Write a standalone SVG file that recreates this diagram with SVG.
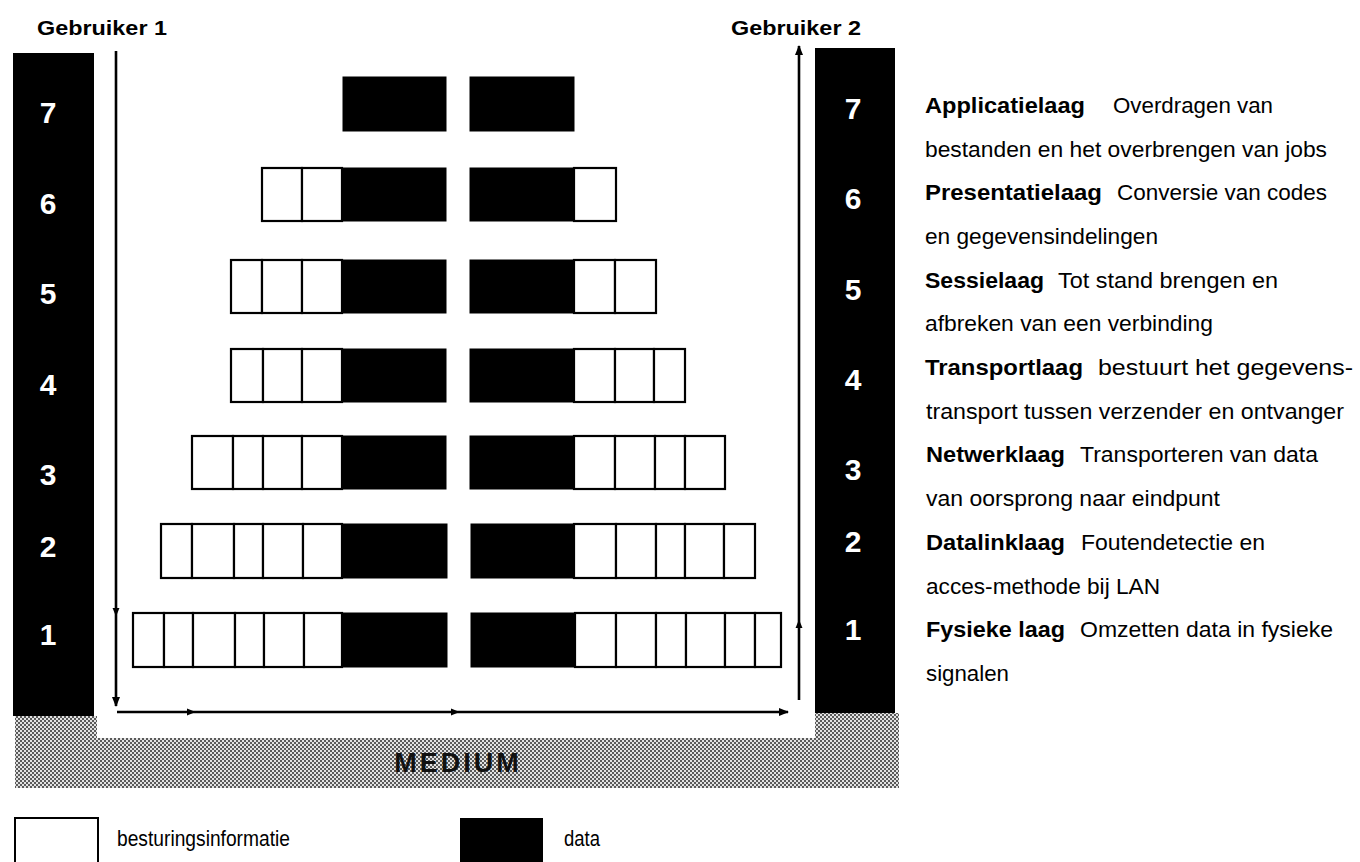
<svg xmlns="http://www.w3.org/2000/svg" width="1360" height="862" viewBox="0 0 1360 862">
<style>
.t{font-family:"Liberation Sans",Arial,sans-serif;font-size:22.5px;fill:#000}
.b{font-weight:bold}
.num{font-family:"Liberation Sans",Arial,sans-serif;font-weight:bold;font-size:30px;fill:#fff;text-anchor:middle}
.col{fill:#000}
.c{fill:#fff;stroke:#000;stroke-width:2.2}
.d{fill:#000;stroke:#000;stroke-width:1}
.ln{fill:none;stroke:#000;stroke-width:2.6}
</style>
<defs>
<pattern id="hatch" width="4" height="4" patternUnits="userSpaceOnUse">
<rect width="4" height="4" fill="#e2e2e2"/>
<rect x="0" y="0" width="2" height="2" fill="#5a5a5a"/>
<rect x="2" y="2" width="2" height="2" fill="#5a5a5a"/>
</pattern>
<marker id="ah" viewBox="0 0 10 10" refX="9" refY="5" markerWidth="10" markerHeight="10" markerUnits="userSpaceOnUse" orient="auto">
<path d="M0,1 L10,5 L0,9 Z" fill="#000"/>
</marker>
<marker id="am" viewBox="0 0 10 10" refX="6" refY="5" markerWidth="9" markerHeight="9" markerUnits="userSpaceOnUse" orient="auto">
<path d="M0,1 L10,5 L0,9 Z" fill="#000"/>
</marker>
</defs>
<rect width="1360" height="862" fill="#fff"/>

<g id="medium">
<path d="M15,716 H97 V738 H815 V713 H899 V788 H15 Z" fill="url(#hatch)"/>
<text x="458" y="772" text-anchor="middle" style="font-family:'Liberation Sans',Arial,sans-serif;font-weight:bold;font-size:27px;letter-spacing:3px;fill:#111">MEDIUM</text>
</g>

<g id="user1">
<text class="t b" x="37" y="35" textLength="130" lengthAdjust="spacingAndGlyphs" style="font-size:21px">Gebruiker 1</text>
<rect class="col" x="13" y="53" width="81" height="663"/>
<text class="num" x="48" y="123">7</text>
<text class="num" x="48" y="214">6</text>
<text class="num" x="48" y="304">5</text>
<text class="num" x="48" y="395">4</text>
<text class="num" x="48" y="485">3</text>
<text class="num" x="48" y="557">2</text>
<text class="num" x="48" y="645">1</text>
</g>

<g id="user2">
<text class="t b" x="731" y="35" textLength="130" lengthAdjust="spacingAndGlyphs" style="font-size:21px">Gebruiker 2</text>
<rect class="col" x="815" y="48" width="80" height="665"/>
<text class="num" x="853" y="119">7</text>
<text class="num" x="853" y="209">6</text>
<text class="num" x="853" y="300">5</text>
<text class="num" x="853" y="390">4</text>
<text class="num" x="853" y="480">3</text>
<text class="num" x="853" y="552">2</text>
<text class="num" x="853" y="640">1</text>
</g>

<g id="row7">
<rect class="d" x="343" y="77" width="103" height="54"/>
<rect class="d" x="470" y="77" width="104" height="54"/>
</g>

<g id="row6">
<rect class="c" x="262" y="168" width="40" height="53"/>
<rect class="c" x="302" y="168" width="40" height="53"/>
<rect class="d" x="342" y="168" width="104" height="53"/>
<rect class="d" x="470" y="168" width="104" height="53"/>
<rect class="c" x="574" y="168" width="42" height="53"/>
</g>

<g id="row5">
<rect class="c" x="231" y="260" width="31" height="53"/>
<rect class="c" x="262" y="260" width="40" height="53"/>
<rect class="c" x="302" y="260" width="40" height="53"/>
<rect class="d" x="342" y="260" width="104" height="53"/>
<rect class="d" x="470" y="260" width="104" height="53"/>
<rect class="c" x="574" y="260" width="41" height="53"/>
<rect class="c" x="615" y="260" width="41" height="53"/>
</g>

<g id="row4">
<rect class="c" x="231" y="349" width="32" height="53"/>
<rect class="c" x="263" y="349" width="39" height="53"/>
<rect class="c" x="302" y="349" width="40" height="53"/>
<rect class="d" x="342" y="349" width="104" height="53"/>
<rect class="d" x="470" y="349" width="104" height="53"/>
<rect class="c" x="574" y="349" width="41" height="53"/>
<rect class="c" x="615" y="349" width="39" height="53"/>
<rect class="c" x="654" y="349" width="31" height="53"/>
</g>

<g id="row3">
<rect class="c" x="192" y="436" width="41" height="53"/>
<rect class="c" x="233" y="436" width="30" height="53"/>
<rect class="c" x="263" y="436" width="39" height="53"/>
<rect class="c" x="302" y="436" width="40" height="53"/>
<rect class="d" x="342" y="436" width="104" height="53"/>
<rect class="d" x="470" y="436" width="104" height="53"/>
<rect class="c" x="574" y="436" width="41" height="53"/>
<rect class="c" x="615" y="436" width="40" height="53"/>
<rect class="c" x="655" y="436" width="30" height="53"/>
<rect class="c" x="685" y="436" width="40" height="53"/>
</g>

<g id="row2">
<rect class="c" x="161" y="524" width="31" height="54"/>
<rect class="c" x="192" y="524" width="42" height="54"/>
<rect class="c" x="234" y="524" width="29" height="54"/>
<rect class="c" x="263" y="524" width="40" height="54"/>
<rect class="c" x="303" y="524" width="39" height="54"/>
<rect class="d" x="342" y="524" width="105" height="54"/>
<rect class="d" x="471" y="524" width="103" height="54"/>
<rect class="c" x="574" y="524" width="42" height="54"/>
<rect class="c" x="616" y="524" width="40" height="54"/>
<rect class="c" x="656" y="524" width="29" height="54"/>
<rect class="c" x="685" y="524" width="39" height="54"/>
<rect class="c" x="724" y="524" width="31" height="54"/>
</g>

<g id="row1">
<rect class="c" x="133" y="613" width="31" height="54"/>
<rect class="c" x="164" y="613" width="29" height="54"/>
<rect class="c" x="193" y="613" width="42" height="54"/>
<rect class="c" x="235" y="613" width="29" height="54"/>
<rect class="c" x="264" y="613" width="40" height="54"/>
<rect class="c" x="304" y="613" width="38" height="54"/>
<rect class="d" x="342" y="613" width="105" height="54"/>
<rect class="d" x="471" y="613" width="104" height="54"/>
<rect class="c" x="575" y="613" width="41" height="54"/>
<rect class="c" x="616" y="613" width="40" height="54"/>
<rect class="c" x="656" y="613" width="30" height="54"/>
<rect class="c" x="686" y="613" width="39" height="54"/>
<rect class="c" x="725" y="613" width="30" height="54"/>
<rect class="c" x="755" y="613" width="26" height="54"/>
</g>

<g id="connectors">
<polyline class="ln" points="116,51 116,613 116,706" marker-mid="url(#am)" marker-end="url(#ah)"/>
<polyline class="ln" points="117,712 192,712 456,712 788,712" marker-mid="url(#am)" marker-end="url(#ah)"/>
<polyline class="ln" points="799,700 799,623 799,46" marker-mid="url(#am)" marker-end="url(#ah)"/>
</g>

<g id="descriptions">
<text class="t b" x="925" y="113" textLength="160" lengthAdjust="spacingAndGlyphs">Applicatielaag</text>
<text class="t" x="1113" y="113" textLength="160" lengthAdjust="spacingAndGlyphs">Overdragen van</text>
<text class="t" x="925" y="157" textLength="402" lengthAdjust="spacingAndGlyphs">bestanden en het overbrengen van jobs</text>
<text class="t b" x="925" y="200" textLength="177" lengthAdjust="spacingAndGlyphs">Presentatielaag</text>
<text class="t" x="1117" y="200" textLength="210" lengthAdjust="spacingAndGlyphs">Conversie van codes</text>
<text class="t" x="925" y="244" textLength="233" lengthAdjust="spacingAndGlyphs">en gegevensindelingen</text>
<text class="t b" x="925" y="288" textLength="119" lengthAdjust="spacingAndGlyphs">Sessielaag</text>
<text class="t" x="1058" y="288" textLength="220" lengthAdjust="spacingAndGlyphs">Tot stand brengen en</text>
<text class="t" x="925" y="331" textLength="288" lengthAdjust="spacingAndGlyphs">afbreken van een verbinding</text>
<text class="t b" x="925" y="375" textLength="158" lengthAdjust="spacingAndGlyphs">Transportlaag</text>
<text class="t" x="1098" y="375" textLength="255" lengthAdjust="spacingAndGlyphs">bestuurt het gegevens-</text>
<text class="t" x="926" y="419" textLength="418" lengthAdjust="spacingAndGlyphs">transport tussen verzender en ontvanger</text>
<text class="t b" x="926" y="462" textLength="139" lengthAdjust="spacingAndGlyphs">Netwerklaag</text>
<text class="t" x="1080" y="462" textLength="238" lengthAdjust="spacingAndGlyphs">Transporteren van data</text>
<text class="t" x="926" y="506" textLength="294" lengthAdjust="spacingAndGlyphs">van oorsprong naar eindpunt</text>
<text class="t b" x="926" y="550" textLength="139" lengthAdjust="spacingAndGlyphs">Datalinklaag</text>
<text class="t" x="1081" y="550" textLength="184" lengthAdjust="spacingAndGlyphs">Foutendetectie en</text>
<text class="t" x="926" y="594" textLength="234" lengthAdjust="spacingAndGlyphs">acces-methode bij LAN</text>
<text class="t b" x="926" y="637" textLength="139" lengthAdjust="spacingAndGlyphs">Fysieke laag</text>
<text class="t" x="1080" y="637" textLength="253" lengthAdjust="spacingAndGlyphs">Omzetten data in fysieke</text>
<text class="t" x="926" y="681" textLength="83" lengthAdjust="spacingAndGlyphs">signalen</text>
</g>

<g id="legend">
<rect x="15" y="818" width="83" height="50" fill="#fff" stroke="#000" stroke-width="2"/>
<text class="t" x="117" y="846" textLength="173" lengthAdjust="spacingAndGlyphs">besturingsinformatie</text>
<rect x="460" y="818" width="83" height="50" fill="#000"/>
<text class="t" x="564" y="846" textLength="36" lengthAdjust="spacingAndGlyphs">data</text>
</g>
</svg>
